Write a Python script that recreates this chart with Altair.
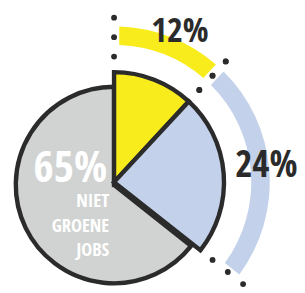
import altair as alt
import pandas as pd

# ---- data ----
categories = ["Groene jobs", "Jobs met groene taken", "Niet groene jobs"]
values = [12, 24, 65]
labels = ["12%", "24%", "65%"]
sub_label = ["NIET", "GROENE", "JOBS"]

df = pd.DataFrame({"cat": categories, "value": values, "label": labels,
                   "order": list(range(len(categories)))})

# ---- styling ----
DARK = "#2b2b2b"
YELLOW = "#fff200"
BLUE = "#c6d4ee"
GREY = "#d1d3d2"
YELLOW_BAND = "#f8ec1c"
BLUE_BAND = "#c3d1ea"
FONT = "Open Sans Condensed, Roboto Condensed, sans-serif"

CX, CY = 109, 175      # centre of the coloured slices
GCX, GCY = 109, 178    # centre of the grey slice
TH = alt.Scale(domain=[0, 1], range=[0, 6.283185307179586])

base = (
    alt.Chart(df)
    .transform_joinaggregate(total="sum(value)")
    .transform_window(cum="sum(value)", sort=[alt.SortField("order")])
    .transform_calculate(
        start="(datum.cum - datum.value) / datum.total",
        end="datum.cum / datum.total",
    )
    .transform_calculate(mid="(datum.start + datum.end) / 2")
)

is_cat = [alt.datum.cat == c for c in categories]
not_grey = alt.datum.cat != categories[2]

bands = base.transform_filter(not_grey).mark_arc(
    radius=141, radius2=160, padAngle=0.05
).encode(
    theta=alt.Theta("start:Q", scale=TH),
    theta2="end:Q",
    fill=alt.Fill("cat:N", scale=alt.Scale(domain=categories[:2], range=[YELLOW_BAND, BLUE_BAND]), legend=None),
    x=alt.value(CX), y=alt.value(CY),
)

dots = (
    base.transform_filter(not_grey)
    .transform_fold(["start", "end"], as_=["edge", "ang"])
    .transform_calculate(rr="[129, 149, 169]")
    .transform_flatten(["rr"])
    .transform_calculate(
        px=f"{CX} + datum.rr * sin(2 * PI * datum.ang)",
        py=f"{CY} - datum.rr * cos(2 * PI * datum.ang)",
    )
    .mark_circle(size=36, color=DARK, opacity=1)
    .encode(x=alt.X("px:Q", scale=None, axis=None), y=alt.Y("py:Q", scale=None, axis=None))
)

grey = base.transform_filter(is_cat[2]).mark_arc(
    radius=101, fill=GREY, stroke=DARK, strokeWidth=4.5, strokeJoin="miter"
).encode(
    theta=alt.Theta("start:Q", scale=TH), theta2="end:Q",
    x=alt.value(GCX), y=alt.value(GCY),
)

colored = base.transform_filter(not_grey).mark_arc(
    radius=113, stroke=DARK, strokeWidth=4.5, strokeJoin="miter"
).encode(
    theta=alt.Theta("start:Q", scale=TH), theta2="end:Q",
    fill=alt.Fill("cat:N", scale=alt.Scale(domain=categories[:2], range=[YELLOW, BLUE]), legend=None),
    x=alt.value(CX), y=alt.value(CY),
)

label_12 = base.transform_filter(is_cat[0]).mark_text(
    radius=169, dx=6, dy=2, font=FONT, fontSize=35, fontWeight="bold", color=DARK,
    align="center", baseline="middle"
).encode(
    theta=alt.Theta("mid:Q", scale=TH), text="label:N",
    x=alt.value(CX), y=alt.value(CY),
)

label_24 = base.transform_filter(is_cat[1]).mark_text(
    radius=157, dx=0, dy=-4, font=FONT, fontSize=38, fontWeight="bold", color=DARK,
    align="center", baseline="middle"
).encode(
    theta=alt.Theta("mid:Q", scale=TH), text="label:N",
    x=alt.value(CX), y=alt.value(CY),
)

big_label = base.transform_filter(is_cat[2]).mark_text(
    font=FONT, fontSize=45, fontWeight="bold", color="white",
    align="right", baseline="alphabetic"
).encode(text="label:N", x=alt.value(102), y=alt.value(175))

small_label = base.transform_filter(is_cat[2]).mark_text(
    font=FONT, fontSize=19, fontWeight="bold", color="white",
    align="right", baseline="alphabetic", lineHeight=25
).encode(text=alt.value(sub_label), x=alt.value(104), y=alt.value(201))

chart = alt.layer(bands, dots, grey, colored, label_12, label_24, big_label, small_label).properties(
    width=297, height=285, padding=0,
    autosize=alt.AutoSizeParams(type="none"),
).configure_view(stroke=None)

chart.save("out.html", embed_options={"renderer": "svg", "actions": False})
